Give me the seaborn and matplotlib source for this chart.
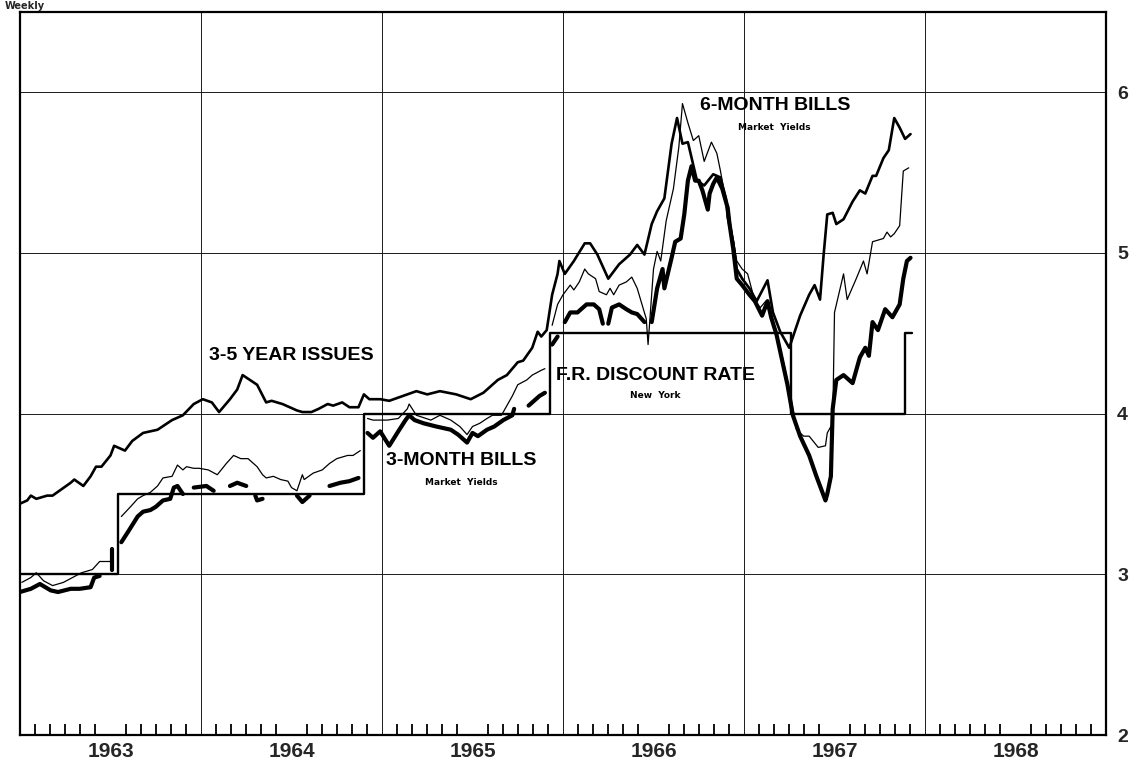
import numpy as np
import pandas as pd
import matplotlib
matplotlib.use('Agg')
import matplotlib.pyplot as plt
import seaborn as sns

nan = np.nan

# --- data (weekly yields, percent) ---
# NaN marks a break in the drawn line

issues_date = [1963.00, 1963.04, 1963.06, 1963.09, 1963.12, 1963.15, 1963.18, 1963.23, 1963.28, 1963.30,
               1963.35, 1963.39, 1963.42, 1963.45, 1963.50, 1963.52, 1963.58, 1963.62, 1963.68, 1963.76,
               1963.84, 1963.90, 1963.96, 1964.01, 1964.06, 1964.10, 1964.16, 1964.20, 1964.23, 1964.31,
               1964.36, 1964.39, 1964.45, 1964.53, 1964.56, 1964.61, 1964.65, 1964.70, 1964.73, 1964.78,
               1964.82, 1964.87, 1964.90, 1964.93, 1964.99, 1965.04, 1965.19, 1965.25, 1965.32, 1965.41,
               1965.49, 1965.56, 1965.64, 1965.69, 1965.75, 1965.78, 1965.83, 1965.86, 1965.88, 1965.91,
               1965.94, 1965.97, 1965.98, 1966.01, 1966.06, 1966.12, 1966.15, 1966.19, 1966.25, 1966.31,
               1966.37, 1966.41, 1966.45, 1966.49, 1966.52, 1966.56, 1966.60, 1966.63, 1966.66, 1966.69,
               1966.74, 1966.78, 1966.83, 1966.87, 1966.90, 1966.91, 1966.94, 1966.96, 1966.99, 1967.03,
               1967.07, 1967.13, 1967.16, 1967.20, 1967.25, 1967.31, 1967.36, 1967.39, 1967.42, 1967.44,
               1967.46, 1967.49, 1967.51, 1967.55, 1967.60, 1967.64, 1967.67, 1967.71, 1967.73, 1967.77,
               1967.80, 1967.83, 1967.86, 1967.89, 1967.92]
issues_rate = [3.44, 3.46, 3.49, 3.47, 3.48, 3.49, 3.49, 3.53, 3.57, 3.59,
               3.55, 3.61, 3.67, 3.67, 3.74, 3.80, 3.77, 3.83, 3.88, 3.90,
               3.96, 3.99, 4.06, 4.09, 4.07, 4.01, 4.09, 4.15, 4.24, 4.18,
               4.07, 4.08, 4.06, 4.02, 4.01, 4.01, 4.03, 4.06, 4.05, 4.07,
               4.04, 4.04, 4.12, 4.09, 4.09, 4.08, 4.14, 4.12, 4.14, 4.12,
               4.09, 4.13, 4.21, 4.24, 4.32, 4.33, 4.41, 4.51, 4.48, 4.52,
               4.74, 4.87, 4.95, 4.87, 4.95, 5.06, 5.06, 4.99, 4.84, 4.93,
               4.99, 5.05, 4.99, 5.18, 5.26, 5.34, 5.68, 5.84, 5.68, 5.69,
               5.45, 5.42, 5.49, 5.47, 5.34, 5.22, 5.07, 4.90, 4.84, 4.78,
               4.70, 4.83, 4.63, 4.51, 4.41, 4.61, 4.74, 4.80, 4.71, 4.99,
               5.24, 5.25, 5.18, 5.21, 5.32, 5.39, 5.37, 5.48, 5.48, 5.59,
               5.64, 5.84, 5.78, 5.71, 5.74]

bills6_date = [1963.01, 1963.06, 1963.09, 1963.13, 1963.18, 1963.24, 1963.29, 1963.34, 1963.40, 1963.44,
               1963.50, 1963.51, nan,
               1963.56, 1963.61, 1963.65, 1963.68, 1963.72, 1963.76, 1963.79, 1963.84, 1963.87, 1963.90,
               1963.92, 1963.96, 1963.99, 1964.04, 1964.09, 1964.14, 1964.18, 1964.22, 1964.26, 1964.31,
               1964.34, 1964.36, 1964.40, 1964.44, 1964.48, 1964.50, 1964.53, 1964.56, 1964.57, 1964.62,
               1964.67, 1964.71, 1964.75, 1964.81, 1964.84, 1964.88, nan,
               1964.92, 1964.95, 1965.03, 1965.09, 1965.14, 1965.15, 1965.19, 1965.27, 1965.32, 1965.38,
               1965.43, 1965.47, 1965.50, 1965.54, 1965.58, 1965.61, 1965.66, 1965.69, 1965.72, 1965.75,
               1965.80, 1965.83, 1965.88, 1965.90, nan,
               1965.94, 1965.97, 1966.00, 1966.04, 1966.06, 1966.09, 1966.12, 1966.14, 1966.18, 1966.20,
               1966.24, 1966.26, 1966.28, 1966.31, 1966.35, 1966.38, 1966.41, 1966.46, 1966.47, 1966.50,
               1966.52, 1966.54, 1966.57, 1966.61, 1966.64, 1966.66, 1966.69, 1966.72, 1966.75, 1966.78,
               1966.82, 1966.85, 1966.87, 1966.90, 1966.92, 1966.96, 1966.99, 1967.02, 1967.06, 1967.09,
               1967.12, 1967.14, 1967.18, 1967.23, 1967.27, 1967.29, 1967.33, 1967.36, 1967.41, 1967.45,
               1967.46, 1967.49, 1967.50, 1967.55, 1967.57, 1967.62, 1967.66, 1967.68, 1967.71, 1967.77,
               1967.79, 1967.81, 1967.83, 1967.86, 1967.88, 1967.91]
bills6_rate = [2.95, 2.98, 3.01, 2.96, 2.93, 2.95, 2.98, 3.01, 3.03, 3.08,
               3.08, 3.14, nan,
               3.36, 3.42, 3.47, 3.49, 3.51, 3.55, 3.60, 3.61, 3.68, 3.65,
               3.67, 3.66, 3.66, 3.65, 3.62, 3.69, 3.74, 3.72, 3.72, 3.67,
               3.62, 3.60, 3.61, 3.59, 3.58, 3.54, 3.52, 3.62, 3.59, 3.63,
               3.65, 3.69, 3.72, 3.74, 3.74, 3.77, nan,
               3.97, 3.96, 3.96, 3.97, 4.03, 4.06, 3.99, 3.96, 3.99, 3.96,
               3.92, 3.87, 3.92, 3.94, 3.97, 3.99, 3.99, 4.05, 4.11, 4.18,
               4.21, 4.24, 4.27, 4.28, nan,
               4.55, 4.68, 4.74, 4.80, 4.77, 4.82, 4.90, 4.87, 4.84, 4.76,
               4.74, 4.78, 4.74, 4.80, 4.82, 4.85, 4.78, 4.59, 4.43, 4.90,
               5.01, 4.95, 5.20, 5.40, 5.66, 5.93, 5.81, 5.70, 5.73, 5.57,
               5.69, 5.62, 5.51, 5.32, 5.22, 4.95, 4.90, 4.87, 4.70, 4.66,
               4.70, 4.63, 4.51, 4.26, 4.03, 3.90, 3.86, 3.86, 3.79, 3.80,
               3.88, 3.94, 4.63, 4.87, 4.71, 4.84, 4.95, 4.87, 5.07, 5.09,
               5.13, 5.10, 5.12, 5.17, 5.51, 5.53]

bills3_date = [1963.00, 1963.06, 1963.11, 1963.17, 1963.21, 1963.28, 1963.33, 1963.39, 1963.41, 1963.44, nan,
               1963.51, 1963.51, nan,
               1963.56, 1963.60, 1963.65, 1963.68, 1963.72, 1963.75, 1963.79, 1963.83, 1963.85, 1963.87,
               1963.90, nan,
               1963.96, 1964.03, 1964.07, nan,
               1964.16, 1964.20, 1964.25, nan,
               1964.30, 1964.31, 1964.34, nan,
               1964.53, 1964.56, 1964.60, nan,
               1964.71, 1964.77, 1964.82, 1964.87, nan,
               1964.92, 1964.95, 1964.99, 1965.04, 1965.09, 1965.13, 1965.15, 1965.18, 1965.23, 1965.30,
               1965.38, 1965.42, 1965.47, 1965.50, 1965.53, 1965.58, 1965.62, 1965.67, 1965.72, 1965.73, nan,
               1965.81, 1965.83, 1965.87, 1965.90, nan,
               1965.94, 1965.97, nan,
               1966.01, 1966.04, 1966.08, 1966.13, 1966.17, 1966.20, 1966.22, nan,
               1966.25, 1966.27, 1966.31, 1966.35, 1966.38, 1966.41, 1966.45, nan,
               1966.49, 1966.52, 1966.55, 1966.56, 1966.60, 1966.62, 1966.65, 1966.67, 1966.69, 1966.71,
               1966.73, 1966.75, 1966.77, 1966.80, 1966.81, 1966.83, 1966.85, 1966.88, 1966.91, 1966.92,
               1966.94, 1966.96, 1966.99, 1967.03, 1967.06, 1967.10, 1967.13, 1967.15, 1967.18, 1967.24,
               1967.27, 1967.31, 1967.36, 1967.40, 1967.45, 1967.46, 1967.48, 1967.49, 1967.51, 1967.55,
               1967.60, 1967.64, 1967.67, 1967.69, 1967.71, 1967.74, 1967.78, 1967.82, 1967.86, 1967.88,
               1967.90, 1967.92]
bills3_rate = [2.89, 2.91, 2.94, 2.90, 2.89, 2.91, 2.91, 2.92, 2.98, 2.99, nan,
               3.03, 3.16, nan,
               3.20, 3.27, 3.36, 3.39, 3.40, 3.42, 3.46, 3.47, 3.54, 3.55,
               3.50, nan,
               3.54, 3.55, 3.52, nan,
               3.55, 3.57, 3.55, nan,
               3.49, 3.46, 3.47, nan,
               3.49, 3.45, 3.49, nan,
               3.55, 3.57, 3.58, 3.60, nan,
               3.88, 3.85, 3.89, 3.80, 3.89, 3.96, 3.99, 3.96, 3.94, 3.92,
               3.90, 3.87, 3.82, 3.88, 3.86, 3.90, 3.92, 3.96, 3.99, 4.03, nan,
               4.05, 4.07, 4.11, 4.13, nan,
               4.43, 4.48, nan,
               4.57, 4.63, 4.63, 4.68, 4.68, 4.65, 4.56, nan,
               4.56, 4.66, 4.68, 4.65, 4.63, 4.62, 4.57, nan,
               4.57, 4.78, 4.90, 4.78, 4.97, 5.07, 5.09, 5.24, 5.45, 5.54,
               5.45, 5.45, 5.39, 5.27, 5.37, 5.43, 5.47, 5.40, 5.28, 5.18,
               5.03, 4.84, 4.80, 4.74, 4.70, 4.61, 4.70, 4.60, 4.49, 4.18,
               3.99, 3.86, 3.74, 3.61, 3.46, 3.50, 3.61, 4.03, 4.21, 4.24,
               4.19, 4.35, 4.41, 4.36, 4.57, 4.52, 4.65, 4.60, 4.68, 4.84,
               4.95, 4.97]

# F.R. discount rate, New York (step changes)
discount_date = [1963.00, 1963.54, 1964.90, 1965.93, 1967.26, 1967.89, 1967.93]
discount_rate = [3.0, 3.5, 4.0, 4.5, 4.0, 4.5, 4.5]

years = [1963, 1964, 1965, 1966, 1967, 1968, 1969]
year_labels = ['1963', '1964', '1965', '1966', '1967', '1968']
rate_ticks = [2, 3, 4, 5, 6]


def to_frame(dates, rates):
    df = pd.DataFrame({'date': dates, 'rate': rates})
    df['seg'] = df['rate'].isna().cumsum()
    return df.dropna()


sns.set_theme(style='white')
plt.rcParams['font.family'] = ['Liberation Sans', 'DejaVu Sans']

fig, ax = plt.subplots(figsize=(11.36, 7.62), dpi=100)
fig.subplots_adjust(left=0.0176, right=0.9736, bottom=0.0354, top=0.9843)

# grid
for y in rate_ticks[1:]:
    ax.axhline(y, color='#1a1a1a', lw=0.7, zorder=1)
for x in years[1:-1]:
    ax.axvline(x, color='#1a1a1a', lw=0.7, zorder=1)

# series
sns.lineplot(data=to_frame(discount_date, discount_rate), x='date', y='rate',
             color='black', lw=1.7, drawstyle='steps-post', ax=ax, zorder=3)
sns.lineplot(data=to_frame(issues_date, issues_rate), x='date', y='rate', units='seg',
             estimator=None, sort=False, color='black', lw=1.9, ax=ax, zorder=4)
sns.lineplot(data=to_frame(bills6_date, bills6_rate), x='date', y='rate', units='seg',
             estimator=None, sort=False, color='black', lw=0.9, ax=ax, zorder=4)
sns.lineplot(data=to_frame(bills3_date, bills3_rate), x='date', y='rate', units='seg',
             estimator=None, sort=False, color='black', lw=3.0, ax=ax, zorder=4)

ax.set_xlim(years[0], years[-1])
ax.set_ylim(2, 6.5)
ax.set_xlabel('')
ax.set_ylabel('')

# year labels centred in each year, monthly ticks inside
ax.set_xticks([y + 0.5 for y in years[:-1]])
ax.set_xticklabels(year_labels, fontsize=15, fontweight='bold')
months = [y + m / 12 for y in years[:-1] for m in range(1, 12)]
ax.set_xticks(months, minor=True)
ax.tick_params(axis='x', which='major', length=0, pad=5)
ax.tick_params(axis='x', which='minor', bottom=True, direction='in', length=8, width=1.3, color='black')

ax.yaxis.tick_right()
ax.set_yticks(rate_ticks)
ax.set_yticklabels([str(t) for t in rate_ticks], fontsize=14, fontweight='bold')
ax.tick_params(axis='y', length=0, pad=8)

for s in ax.spines.values():
    s.set_visible(True)
    s.set_color('black')
    s.set_linewidth(1.6)

# annotations
big = dict(fontsize=14, fontweight='bold', ha='center', va='center', color='black')
small = dict(fontsize=6.5, fontweight='bold', ha='center', va='center', color='black',
             family=['DejaVu Sans'])
ax.text(1964.50, 4.36, '3-5 YEAR ISSUES', **big)
ax.text(1967.17, 5.92, '6-MONTH BILLS', **big)
ax.text(1967.17, 5.78, 'Market  Yields', **small)
ax.text(1966.51, 4.24, 'F.R. DISCOUNT RATE', **big)
ax.text(1966.51, 4.11, 'New  York', **small)
ax.text(1965.44, 3.71, '3-MONTH BILLS', **big)
ax.text(1965.44, 3.57, 'Market  Yields', **small)

fig.text(0.004, 1 - 11 / 762, 'Weekly', fontsize=7, fontweight='bold', ha='left', va='bottom',
         family=['DejaVu Sans'])

fig.savefig('out.png', dpi=100, facecolor='white')
